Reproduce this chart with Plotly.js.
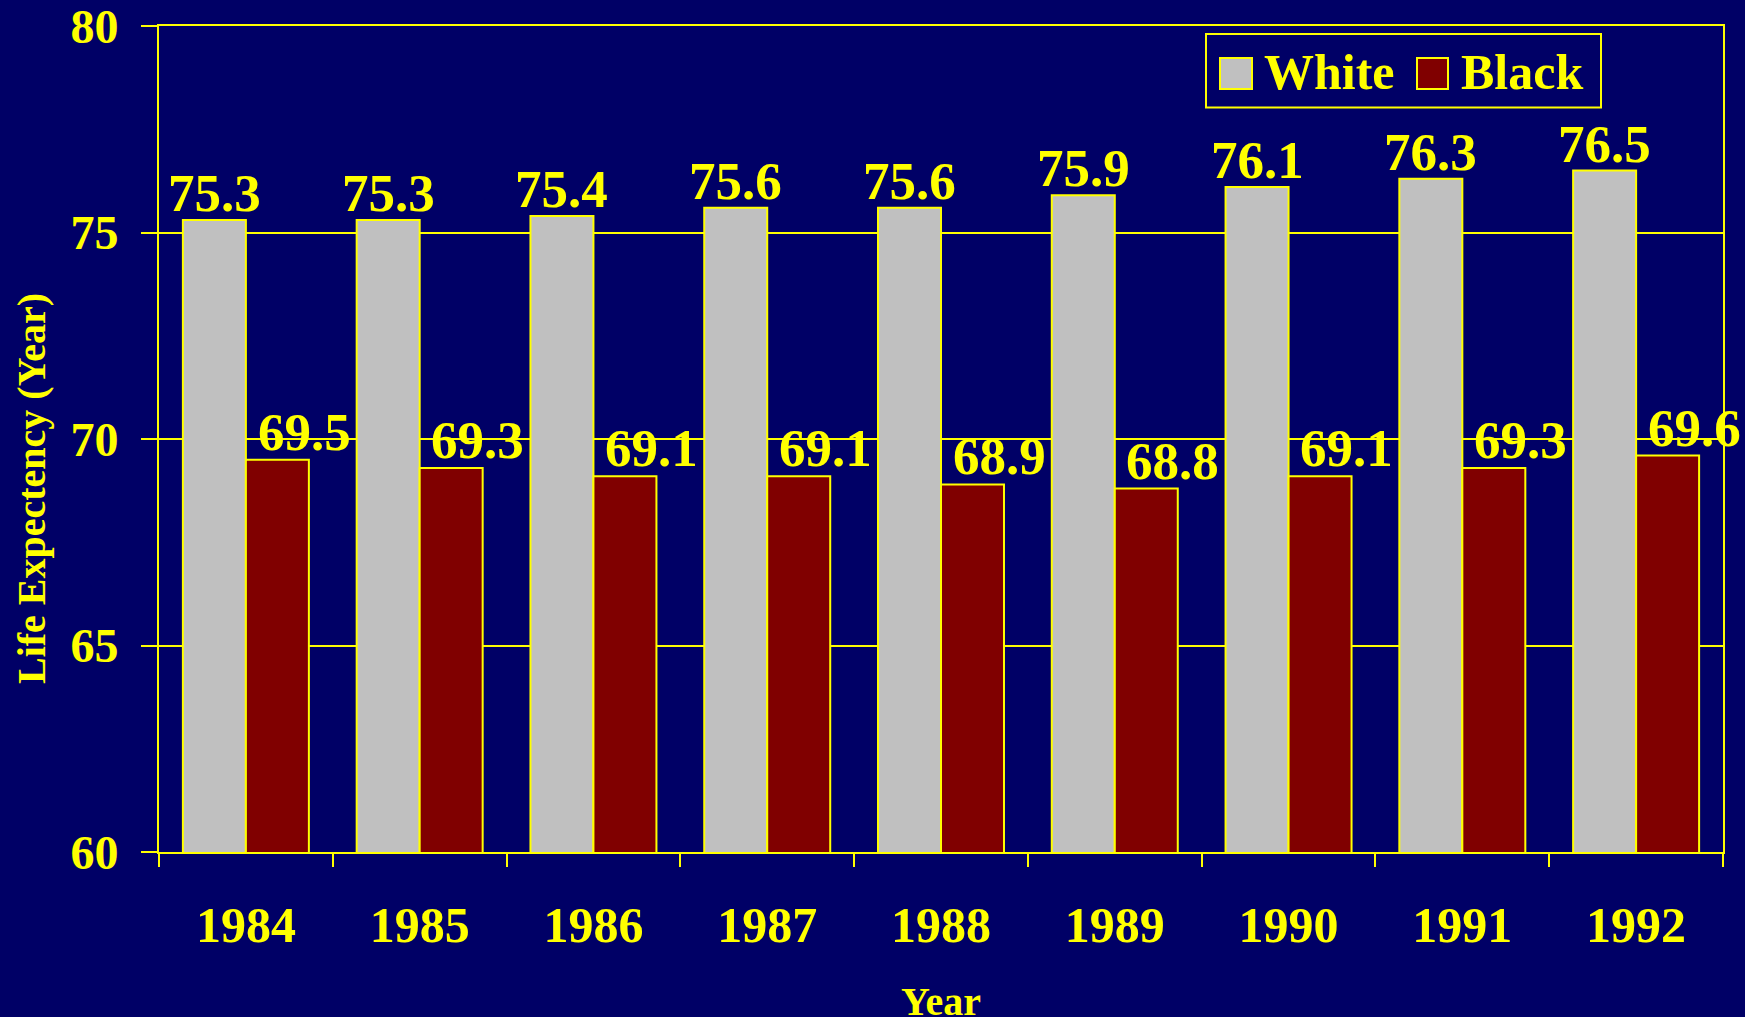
<!DOCTYPE html>
<html>
<head>
<meta charset="utf-8">
<script src="https://cdn.plot.ly/plotly-3.0.1.min.js"></script>
<style>
  html, body { margin: 0; padding: 0; background: #000066; }
  #chart { width: 1745px; height: 1017px; }
</style>
</head>
<body>
<div id="chart"></div>
<script>
// ---- data ----
const years = ["1984", "1985", "1986", "1987", "1988", "1989", "1990", "1991", "1992"];
const whiteValues = [75.3, 75.3, 75.4, 75.6, 75.6, 75.9, 76.1, 76.3, 76.5];
const blackValues = [69.5, 69.3, 69.1, 69.1, 68.9, 68.8, 69.1, 69.3, 69.6];
const seriesNames = ["White", "Black"];
const yTickValues = [60, 65, 70, 75, 80];
const xAxisTitle = "Year";
const yAxisTitle = "Life Expectency (Year)";

// ---- style ----
const W = 1745, H = 1017;
const M = { l: 159, r: 22, t: 26, b: 165 };
const PW = W - M.l - M.r, PH = H - M.t - M.b;
const FAM = "Liberation Serif, 'Times New Roman', Times, serif";
const YEL = "#FFFF00";
const BG = "#000066";
const colors = ["#C0C0C0", "#800000"];
const px2x = p => (p - M.l) / PW;
const py2y = p => (H - M.b - p) / PH;
const bargap = 0.275;
const barW = (1 - bargap) / 2;

const font = (size) => ({ family: FAM, size: size, color: YEL, weight: "bold" });

const traces = [
  { type: "bar", name: seriesNames[0], x: years, y: whiteValues,
    marker: { color: colors[0], line: { color: YEL, width: 2 } }, showlegend: false, hoverinfo: "skip" },
  { type: "bar", name: seriesNames[1], x: years, y: blackValues,
    marker: { color: colors[1], line: { color: YEL, width: 2 } }, showlegend: false, hoverinfo: "skip" }
];

const annotations = [];
const labelShift = -4;
whiteValues.forEach((v, i) => annotations.push({
  x: i - barW / 2, y: v, xref: "x", yref: "y", text: v.toFixed(1), showarrow: false,
  xanchor: "center", yanchor: "bottom", yshift: labelShift, font: font(53)
}));
blackValues.forEach((v, i) => annotations.push({
  x: i + 0.335, y: v, xref: "x", yref: "y", text: v.toFixed(1), showarrow: false,
  xanchor: "center", yanchor: "bottom", yshift: labelShift + 1, font: font(53)
}));
// axis titles
annotations.push({ x: 0.5, y: 0, xref: "paper", yref: "paper", text: xAxisTitle, showarrow: false,
  xanchor: "center", yanchor: "top", yshift: -125, font: font(40) });
annotations.push({ x: px2x(31), y: py2y(489), xref: "paper", yref: "paper", text: yAxisTitle, showarrow: false,
  textangle: -90, xanchor: "center", yanchor: "middle", font: font(40) });

// custom legend (large swatches)
const shapes = [
  { type: "rect", xref: "paper", yref: "paper", x0: px2x(1206), x1: px2x(1601), y0: py2y(107.5), y1: py2y(34),
    line: { color: YEL, width: 2 }, fillcolor: "rgba(0,0,0,0)" },
  { type: "rect", xref: "paper", yref: "paper", x0: px2x(1220), x1: px2x(1252), y0: py2y(89), y1: py2y(58),
    line: { color: YEL, width: 2 }, fillcolor: colors[0] },
  { type: "rect", xref: "paper", yref: "paper", x0: px2x(1417), x1: px2x(1448), y0: py2y(89), y1: py2y(58),
    line: { color: YEL, width: 2 }, fillcolor: colors[1] }
];
annotations.push({ x: px2x(1262), y: py2y(90), xref: "paper", yref: "paper", text: seriesNames[0], showarrow: false,
  xanchor: "left", yanchor: "bottom", yshift: -12, font: font(50) });
annotations.push({ x: px2x(1459), y: py2y(90), xref: "paper", yref: "paper", text: seriesNames[1], showarrow: false,
  xanchor: "left", yanchor: "bottom", yshift: -12, font: font(50) });

const layout = {
  width: W, height: H,
  margin: M,
  paper_bgcolor: BG, plot_bgcolor: BG,
  barmode: "group", bargap: bargap, bargroupgap: 0,
  showlegend: false,
  font: font(48),
  xaxis: {
    type: "category", range: [-0.5, years.length - 0.5], autorange: false,
    tickson: "boundaries", ticks: "outside", ticklen: 13, tickwidth: 2, tickcolor: YEL,
    showline: true, linecolor: YEL, linewidth: 2, mirror: true, showgrid: false, zeroline: false,
    tickfont: font(50), ticklabelstandoff: 28
  },
  yaxis: {
    range: [60, 80], autorange: false, tickvals: yTickValues, ticks: "outside", ticklen: 16, tickwidth: 2, tickcolor: YEL,
    showline: true, linecolor: YEL, linewidth: 2, mirror: true,
    showgrid: true, gridcolor: YEL, gridwidth: 2, zeroline: false,
    tickfont: font(48), ticklabelstandoff: 13, ticklabeloverflow: "allow"
  },
  annotations: annotations,
  shapes: shapes
};

Plotly.newPlot("chart", traces, layout, { displayModeBar: false, staticPlot: true });
</script>
</body>
</html>
